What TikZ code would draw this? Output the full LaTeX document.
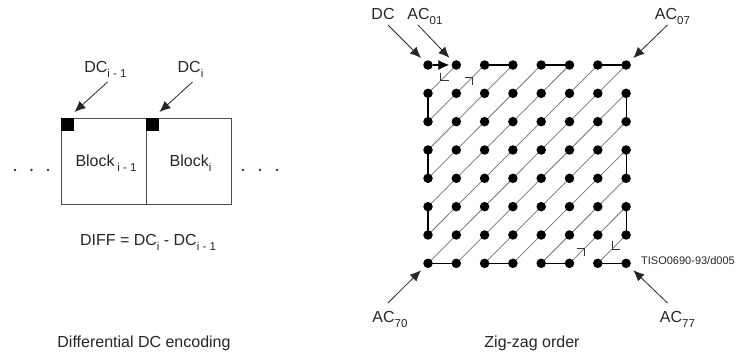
\documentclass[tikz,border=0pt]{standalone}
\usepackage{fontspec}
\setmainfont{Liberation Sans}
\usetikzlibrary{arrows.meta,calc}
\pgfdeclarelayer{bg}
\pgfsetlayers{bg,main}
\newcommand{\sbs}[1]{\raisebox{-0.6ex}{\fontsize{11.5}{13}\selectfont #1}}
\begin{document}
\begin{tikzpicture}[x=1pt,y=-1pt,
  lbl/.style={font=\fontsize{16}{19}\selectfont, text=black!85, inner sep=0pt, anchor=base},
  dot/.style={circle,fill=black,inner sep=0pt,minimum size=9.5pt},
  sdot/.style={circle,fill=black!80,inner sep=0pt,minimum size=2.6pt},
  diag/.style={draw=black!55,line width=0.75pt},
  hv/.style={draw=black,line width=1.1pt},
  ptr/.style={draw=black!85,line width=0.8pt,-{Latex[length=11pt,width=9.5pt]}},
  tick/.style={draw=black!80,line width=0.7pt},
  blk/.style={draw=black!70,line width=0.8pt,minimum height=86pt,inner sep=0pt},
  sq/.style={fill=black,minimum size=13pt,inner sep=0pt,anchor=north west},
]
\useasboundingbox (0,0) rectangle (739,354);

% ---------- left: differential DC encoding ----------
\node[blk,minimum width=85pt] (b1) at (103.5,161) {};
\node[blk,minimum width=85.7pt] (b2) at (188.85,161) {};
\node[sq] (s1) at (b1.north west) {};
\node[sq] (s2) at (b2.north west) {};
\node[lbl] (t1) at (106,166) {Block\,\sbs{i - 1}};
\node[lbl] (t2) at (190.5,166) {Block\sbs{i}};
\foreach \i/\x in {1/15,2/31.5,3/48,4/243,5/260,6/277}
  \node[sdot] (e\i) at (\x,170) {};
\node[lbl] (lDa) at (105.5,72) {DC\sbs{i - 1}};
\node[lbl] (lDb) at (190.5,72) {DC\sbs{i}};
\coordinate (pa) at (74.5,112);
\coordinate (pb) at (159.5,112);
\draw[ptr] ($(lDa.base)+(2,10)$) -- (pa);
\draw[ptr] ($(lDb.base)+(2,10)$) -- (pb);
\node[lbl] (diff) at (148,245) {DIFF = DC\sbs{i} - DC\sbs{i - 1}};
\node[lbl] (cap1) at (144,347) {Differential DC encoding};

% ---------- right: zig-zag order ----------
\foreach \r in {0,...,7}
  \foreach \c in {0,...,7}
    \node[dot] (d\r\c) at ({428+28.3*\c},{65+28.33*\r}) {};

\begin{pgfonlayer}{bg}
\foreach \s in {1,...,13}{
  \pgfmathtruncatemacro\ra{max(0,\s-7)}
  \pgfmathtruncatemacro\ca{\s-\ra}
  \pgfmathtruncatemacro\rb{min(7,\s)}
  \pgfmathtruncatemacro\cb{\s-\rb}
  \draw[diag] (d\ra\ca.center) -- (d\rb\cb.center);
}
\foreach \a/\b in {02/03,04/05,06/07,10/20,30/40,50/60,17/27,37/47,57/67,70/71,72/73,74/75,76/77}
  \draw[hv] (d\a.center) -- (d\b.center);
\end{pgfonlayer}
\draw[hv,-{Latex[length=11pt,width=10pt]},shorten >=2pt] (d00) -- (d01);

% direction ticks on diagonals
\coordinate (m1) at ($(d01)!0.55!(d10)$);
\draw[tick] ($(m1)+(0,-8)$) -- (m1) -- ($(m1)+(8,0)$);
\coordinate (m2) at ($(d20)!0.79!(d02)$);
\draw[tick] ($(m2)+(-8,0)$) -- (m2) -- ($(m2)+(0,8)$);
\coordinate (m3) at ($(d75)!0.27!(d57)$);
\draw[tick] ($(m3)+(-8,0)$) -- (m3) -- ($(m3)+(0,8)$);
\coordinate (m4) at ($(d67)!0.5!(d76)$);
\draw[tick] ($(m4)+(0,-8)$) -- (m4) -- ($(m4)+(8,0)$);

% labels and pointers
\node[lbl] (lDC) at (383,19) {DC};
\node[lbl] (l01) at (425,19) {AC\sbs{01}};
\node[lbl] (l07) at (672.5,19) {AC\sbs{07}};
\node[lbl] (l70) at (390,322) {AC\sbs{70}};
\node[lbl] (l77) at (677.5,322) {AC\sbs{77}};
\draw[ptr,shorten >=5pt] ($(lDC.base)+(5,6)$) -- (d00);
\draw[ptr,shorten >=5pt] ($(l01.base)+(-7,6)$) -- (d01);
\draw[ptr,shorten >=5pt] ($(l07.base)+(-5,6)$) -- (d07);
\draw[ptr,shorten >=5pt] ($(l70.base)+(-2,-19)$) -- (d70);
\draw[ptr,shorten >=5pt] ($(l77.base)+(-10,-19)$) -- (d77);
\node[inner sep=0pt,anchor=base west,font=\fontsize{11}{13}\selectfont,text=black!85] (tiso) at (641,264) {TISO0690-93/d005};
\node[lbl] (cap2) at (532,347) {Zig-zag order};
\end{tikzpicture}
\end{document}
